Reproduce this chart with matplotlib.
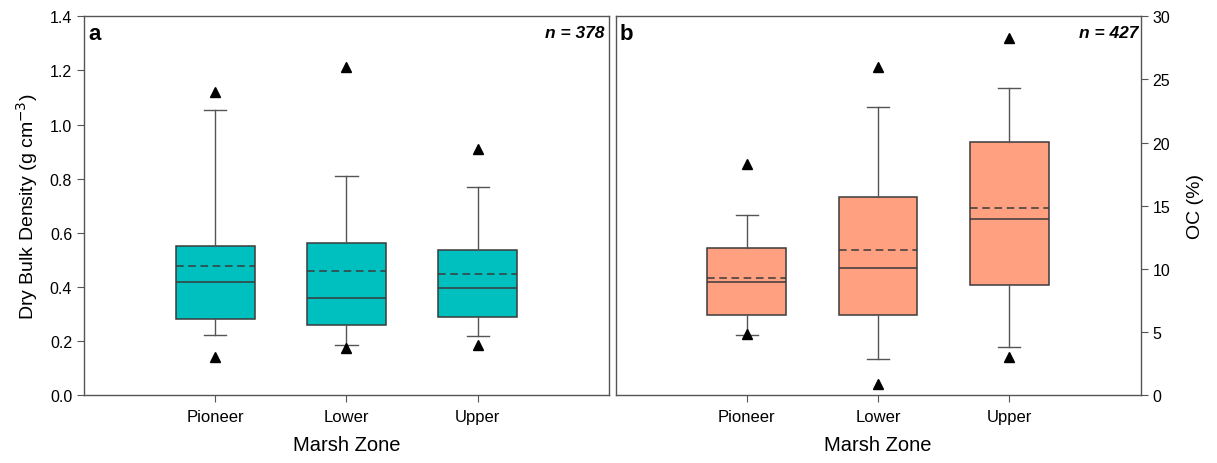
import matplotlib
matplotlib.use("Agg")
import matplotlib.pyplot as plt

plt.rcParams['font.family'] = ['Liberation Sans', 'DejaVu Sans']

zones = ["Pioneer", "Lower", "Upper"]

# Dry bulk density (g cm-3) summary statistics per marsh zone
dbd_whislo = [0.221, 0.186, 0.216]
dbd_q1 = [0.281, 0.258, 0.289]
dbd_med = [0.416, 0.358, 0.396]
dbd_mean = [0.475, 0.458, 0.447]
dbd_q3 = [0.549, 0.560, 0.534]
dbd_whishi = [1.055, 0.810, 0.767]
dbd_fliers = [[0.138, 1.122], [0.174, 1.214], [0.183, 0.910]]

# Organic carbon (%) summary statistics per marsh zone
oc_whislo = [4.78, 2.83, 3.81]
oc_q1 = [6.34, 6.34, 8.70]
oc_med = [8.96, 10.02, 13.93]
oc_mean = [9.25, 11.47, 14.78]
oc_q3 = [11.63, 15.67, 20.01]
oc_whishi = [14.25, 22.81, 24.32]
oc_fliers = [[4.84, 18.29], [0.82, 26.01], [3.01, 28.26]]

n_dbd = 378
n_oc = 427


def build_stats(lo, q1, med, mean, q3, hi, fl):
    return [dict(label=z, whislo=a, q1=b, med=c, mean=d, q3=e, whishi=f, fliers=g)
            for z, a, b, c, d, e, f, g in zip(zones, lo, q1, med, mean, q3, hi, fl)]


def draw_panel(ax, stats, face):
    line_col = "#3a3a3a"
    ax.bxp(stats, positions=[1, 2, 3], widths=0.6, capwidths=0.17,
           patch_artist=True, showmeans=True, meanline=True,
           boxprops=dict(facecolor=face, edgecolor=line_col, linewidth=1.1),
           medianprops=dict(color=line_col, linewidth=1.1),
           meanprops=dict(color=line_col, linewidth=1.1, linestyle=(0, (5, 3))),
           whiskerprops=dict(color="#555555", linewidth=1.0),
           capprops=dict(color="#555555", linewidth=1.0),
           flierprops=dict(marker="^", markerfacecolor="black",
                           markeredgecolor="black", markersize=6.5, linestyle="none"))
    ax.set_xlim(0, 4)
    ax.set_xticks([1, 2, 3])
    ax.set_xticklabels(zones, fontsize=12)
    ax.tick_params(axis="x", direction="out", length=5, pad=5, color="#555555")
    ax.tick_params(axis="y", direction="out", length=5, labelsize=11.5, color="#555555")
    for s in ax.spines.values():
        s.set_color("#555555")
        s.set_linewidth(1.0)
    ax.set_xlabel("Marsh Zone", fontsize=14.5, labelpad=8)


fig = plt.figure(figsize=(12.17, 4.64), dpi=100)
ax_a = fig.add_axes([0.069, 0.147, 0.4314, 0.8155])
ax_b = fig.add_axes([0.5058, 0.147, 0.4314, 0.8155])

draw_panel(ax_a, build_stats(dbd_whislo, dbd_q1, dbd_med, dbd_mean, dbd_q3,
                             dbd_whishi, dbd_fliers), "#00C0BF")
ax_a.set_ylim(0, 1.4)
ax_a.set_yticks([0.0, 0.2, 0.4, 0.6, 0.8, 1.0, 1.2, 1.4])
ax_a.set_yticklabels([f"{v:.1f}" for v in ax_a.get_yticks()])
ax_a.set_ylabel("Dry Bulk Density (g cm$^{-3}$)", fontsize=14, labelpad=7)
ax_a.text(0.008, 0.982, "a", transform=ax_a.transAxes, fontsize=16,
          fontweight="bold", va="top", ha="left")
ax_a.text(0.992, 0.978, f"n = {n_dbd}", transform=ax_a.transAxes, fontsize=12.5,
          fontweight="bold", fontstyle="italic", va="top", ha="right")

draw_panel(ax_b, build_stats(oc_whislo, oc_q1, oc_med, oc_mean, oc_q3,
                             oc_whishi, oc_fliers), "#FFA080")
ax_b.set_ylim(0, 30)
ax_b.set_yticks([0, 5, 10, 15, 20, 25, 30])
ax_b.yaxis.tick_right()
ax_b.yaxis.set_label_position("right")
ax_b.set_ylabel("OC (%)", fontsize=14, labelpad=12)
ax_b.text(0.008, 0.982, "b", transform=ax_b.transAxes, fontsize=16,
          fontweight="bold", va="top", ha="left")
ax_b.text(0.996, 0.978, f"n = {n_oc}", transform=ax_b.transAxes, fontsize=12.5,
          fontweight="bold", fontstyle="italic", va="top", ha="right")

fig.savefig("out.png", dpi=100)
